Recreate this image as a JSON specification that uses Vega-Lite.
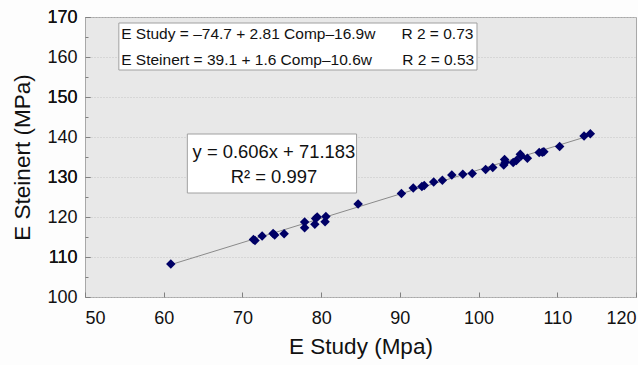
{
  "$schema": "https://vega.github.io/schema/vega-lite/v6.json",
  "autosize": {"type": "none"},
  "width": 551,
  "height": 280,
  "padding": {"left": 85, "top": 17, "right": 2, "bottom": 68},
  "background": "#fdfdfd",
  "config": {
    "font": "Liberation Sans",
    "view": {"fill": "#e8e8e8", "stroke": "#a8a8a8", "strokeWidth": 1},
    "axis": {
      "domain": false,
      "labelFont": "Liberation Sans",
      "titleFont": "Liberation Sans",
      "labelColor": "#111111",
      "titleColor": "#111111",
      "titleFontSize": 22.5,
      "titleFontWeight": "normal",
      "tickColor": "#808080",
      "tickWidth": 1
    }
  },
  "resolve": {"axis": {"y": "independent"}},
  "datasets": {
    "points": [
      {"study": 60.9, "steinert": 108.25},
      {"study": 71.4, "steinert": 114.4},
      {"study": 71.6, "steinert": 114.1},
      {"study": 72.5, "steinert": 115.25},
      {"study": 73.9, "steinert": 115.9},
      {"study": 74.1, "steinert": 115.5},
      {"study": 75.3, "steinert": 115.8},
      {"study": 77.9, "steinert": 118.75},
      {"study": 77.9, "steinert": 117.3},
      {"study": 79.2, "steinert": 118.2},
      {"study": 79.3, "steinert": 119.6},
      {"study": 79.5, "steinert": 120.0},
      {"study": 80.5, "steinert": 118.8},
      {"study": 80.6, "steinert": 120.1},
      {"study": 84.7, "steinert": 123.25},
      {"study": 90.2, "steinert": 125.9},
      {"study": 91.7, "steinert": 127.25},
      {"study": 92.8, "steinert": 127.6},
      {"study": 93.1, "steinert": 127.9},
      {"study": 94.3, "steinert": 128.75},
      {"study": 95.4, "steinert": 129.2},
      {"study": 96.6, "steinert": 130.5},
      {"study": 98.0, "steinert": 130.7},
      {"study": 99.2, "steinert": 130.9},
      {"study": 100.9, "steinert": 131.9},
      {"study": 101.8, "steinert": 132.4},
      {"study": 103.2, "steinert": 133.0},
      {"study": 103.3, "steinert": 134.4},
      {"study": 103.4, "steinert": 133.7},
      {"study": 104.4, "steinert": 133.6},
      {"study": 104.8, "steinert": 134.1},
      {"study": 105.3, "steinert": 135.7},
      {"study": 105.4, "steinert": 135.25},
      {"study": 106.2, "steinert": 134.7},
      {"study": 107.7, "steinert": 136.1},
      {"study": 108.1, "steinert": 136.2},
      {"study": 108.3, "steinert": 136.3},
      {"study": 110.3, "steinert": 137.6},
      {"study": 113.4, "steinert": 140.25},
      {"study": 114.2, "steinert": 140.8}
    ],
    "fit": [
      {"study": 60.8, "steinert": 108.03},
      {"study": 114.2, "steinert": 140.39}
    ],
    "boxes": [
      {"x1": 54.3, "x2": 99.8, "y1": 168.5, "y2": 156.75},
      {"x1": 63.0, "x2": 84.5, "y1": 140.75, "y2": 126.0}
    ],
    "labelsLeft": [
      {"x": 54.6, "y": 165.75, "text": "E Study = –74.7 + 2.81 Comp–16.9w"},
      {"x": 54.6, "y": 159.25, "text": "E Steinert = 39.1 + 1.6 Comp–10.6w"},
      {"x": 90.2, "y": 165.75, "text": "R 2 = 0.73"},
      {"x": 90.3, "y": 159.25, "text": "R 2 = 0.53"}
    ],
    "labelsCenter": [
      {"x": 74.0, "y": 136.3, "text": "y = 0.606x + 71.183"},
      {"x": 74.0, "y": 130.0, "text": "R² = 0.997"}
    ]
  },
  "layer": [
    {
      "data": {"name": "boxes"},
      "mark": {"type": "rect", "fill": "white", "stroke": "#a0a0a0", "strokeWidth": 1},
      "encoding": {
        "x": {"field": "x1", "type": "quantitative", "scale": {"domain": [50, 120], "nice": false},
          "axis": {"title": "E Study (Mpa)",
            "values": [50, 55, 60, 65, 70, 75, 80, 85, 90, 95, 100, 105, 110, 115, 120],
            "labelFontSize": {"condition": {"test": "datum.value % 10 !== 0", "value": 0}, "value": 18},
            "labelOverlap": false,
            "tickSize": {"condition": {"test": "datum.value % 10 !== 0", "value": -3}, "value": -5},
            "grid": false, "labelPadding": 17, "titlePadding": 8, "labelFlush": true}},
        "x2": {"field": "x2"},
        "y": {"field": "y1", "type": "quantitative", "scale": {"domain": [100, 170], "nice": false},
          "axis": {"title": "E Steinert (MPa)", "orient": "left",
            "values": [100, 105, 110, 115, 120, 125, 130, 135, 140, 145, 150, 155, 160, 165, 170],
            "labelFontSize": {"condition": {"test": "datum.value % 10 !== 0", "value": 0}, "value": 18},
            "labelOverlap": false,
            "tickSize": {"condition": {"test": "datum.value % 10 !== 0", "value": -3}, "value": -5},
            "grid": true, "gridColor": "#c4c4c4", "gridDash": [1, 2],
            "gridOpacity": {"condition": {"test": "datum.value % 10 !== 0", "value": 0}, "value": 1},
            "labelPadding": 13, "titlePadding": 12, "labelFlush": false}},
        "y2": {"field": "y2"}
      }
    },
    {
      "data": {"name": "fit"},
      "mark": {"type": "line", "color": "#8a8a8a", "strokeWidth": 1},
      "encoding": {
        "x": {"field": "study", "type": "quantitative"},
        "y": {"field": "steinert", "type": "quantitative",
          "axis": {"orient": "left", "title": null, "values": [110, 130, 150, 170],
            "labelFontSize": 18, "labelOverlap": false, "tickSize": -5,
            "grid": false, "labelPadding": 13, "labelFlush": false}}
      }
    },
    {
      "data": {"name": "points"},
      "mark": {"type": "point", "shape": "diamond", "filled": true, "color": "#000066", "opacity": 1, "size": 90},
      "encoding": {
        "x": {"field": "study", "type": "quantitative"},
        "y": {"field": "steinert", "type": "quantitative", "axis": null}
      }
    },
    {
      "data": {"name": "labelsLeft"},
      "mark": {"type": "text", "align": "left", "baseline": "middle", "fontSize": 15.5, "color": "#111111"},
      "encoding": {
        "x": {"field": "x", "type": "quantitative"},
        "y": {"field": "y", "type": "quantitative", "axis": null},
        "text": {"field": "text"}
      }
    },
    {
      "data": {"name": "labelsCenter"},
      "mark": {"type": "text", "align": "center", "baseline": "middle", "fontSize": 18.4, "color": "#111111"},
      "encoding": {
        "x": {"field": "x", "type": "quantitative"},
        "y": {"field": "y", "type": "quantitative", "axis": null},
        "text": {"field": "text"}
      }
    }
  ]
}
